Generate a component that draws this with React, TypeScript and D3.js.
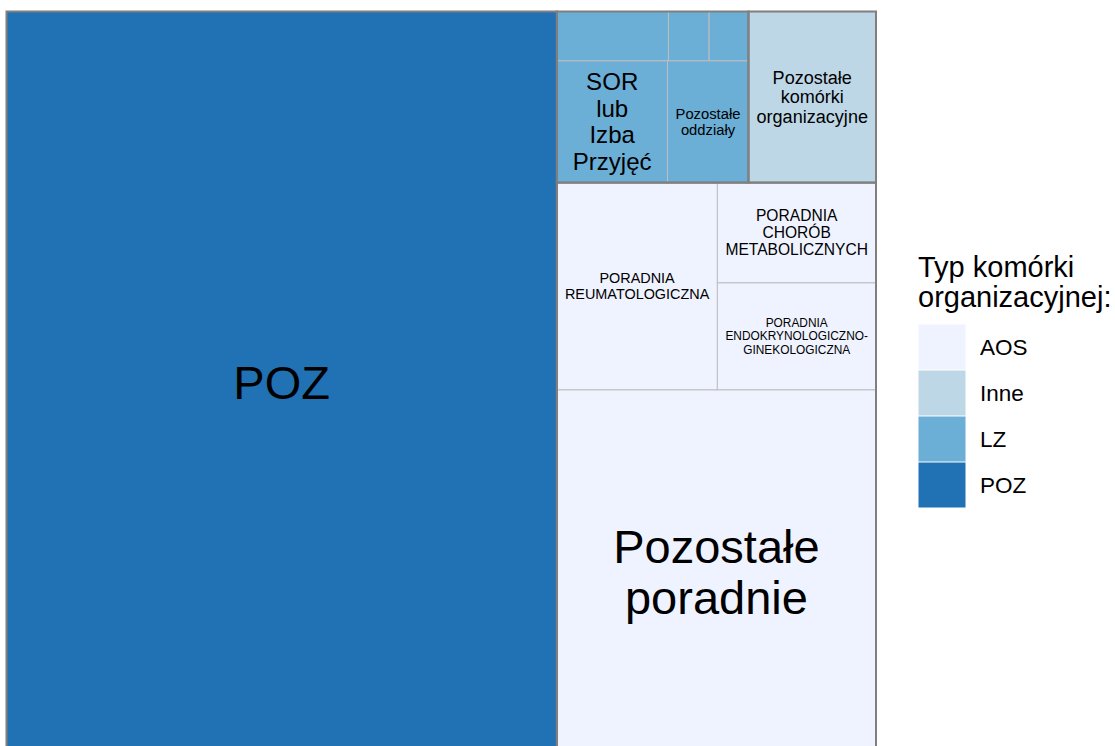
import React from "react";
import * as d3 from "d3";

// ---------- data ----------
const groupNames = ["AOS", "Inne", "LZ", "POZ"];
const legendTitle = ["Typ komórki", "organizacyjnej:"];

const cellNames = [
  "POZ",
  "Pozostałe poradnie",
  "PORADNIA REUMATOLOGICZNA",
  "PORADNIA ENDOKRYNOLOGICZNO-GINEKOLOGICZNA",
  "PORADNIA CHORÓB METABOLICZNYCH",
  "Pozostałe komórki organizacyjne",
  "SOR lub Izba Przyjęć",
  "Pozostałe oddziały",
  "Oddział 1",
  "Oddział 2",
  "Oddział 3",
];
const cellGroups = ["POZ", "AOS", "AOS", "AOS", "AOS", "Inne", "LZ", "LZ", "LZ", "LZ", "LZ"];
const cellValues = [6331, 1801, 515, 263, 246, 338, 209, 153, 85, 31, 30];
const cellLabels = [
  "POZ",
  "Pozostałe\nporadnie",
  "PORADNIA\nREUMATOLOGICZNA",
  "PORADNIA\nENDOKRYNOLOGICZNO-\nGINEKOLOGICZNA",
  "PORADNIA\nCHORÓB\nMETABOLICZNYCH",
  "Pozostałe\nkomórki\norganizacyjne",
  "SOR\nlub\nIzba\nPrzyjęć",
  "Pozostałe\noddziały",
  "",
  "",
  "",
];

// ---------- layout constants ----------
const WIDTH = 1115;
const HEIGHT = 746;
const PANEL = { left: 6.5, right: 876, top: 11.5, bottom: 754 };
const FONT = "'Liberation Sans', Arial, Helvetica, sans-serif";
const colors = d3.scaleOrdinal<string, string>().domain(groupNames).range(["#eff3ff", "#bdd7e7", "#6baed6", "#2171b5"]);

let ctx: CanvasRenderingContext2D | null = null;
function textWidth(s: string, size: number) {
  if (!ctx) {
    const c = document.createElement("canvas");
    ctx = c.getContext("2d");
  }
  if (!ctx) return s.length * size * 0.55;
  ctx.font = `${size}px ${FONT}`;
  return ctx.measureText(s).width;
}

export default function App() {
  const data = {
    name: "root",
    children: groupNames.map((g) => ({
      name: g,
      children: cellNames
        .map((n, i) => ({ name: n, group: cellGroups[i], value: cellValues[i], label: cellLabels[i] }))
        .filter((c) => c.group === g),
    })),
  };

  const root = d3
    .hierarchy<any>(data)
    .sum((d: any) => d.value || 0)
    .sort((a, b) => (b.value || 0) - (a.value || 0));

  d3.treemap<any>().tile(d3.treemapSquarify.ratio(1)).size([1, 1])(root);

  const x = d3.scaleLinear().domain([0, 1]).range([PANEL.left, PANEL.right]);
  const y = d3.scaleLinear().domain([0, 1]).range([PANEL.bottom, PANEL.top]);

  const leaves = root.leaves() as any[];
  const groups = (root.children || []) as any[];

  const pad = 8;
  const maxFs = 47;
  const lh = 1.1;

  const labelEls = leaves.map((l, i) => {
    const label: string = l.data.label;
    if (!label) return null;
    const x0 = x(l.x0), x1 = x(l.x1), yt = y(l.y1), yb = y(l.y0);
    const w = x1 - x0, h = yb - yt;
    const lines = label.split("\n");
    const maxW = d3.max(lines, (s) => textWidth(s, 100) / 100) || 1;
    const fs = Math.min(maxFs, (w - 2 * pad) / maxW, (h - 2 * pad) / (lines.length * lh));
    const cx = (x0 + x1) / 2, cy = (yt + yb) / 2;
    const step = fs * lh;
    return (
      <text key={"t" + i} x={cx} textAnchor="middle" fontSize={fs} fontFamily={FONT} fill="#000">
        {lines.map((s, k) => (
          <tspan key={k} x={cx} y={cy + (k - (lines.length - 1) / 2) * step + 0.355 * fs}>
            {s}
          </tspan>
        ))}
      </text>
    );
  });

  const keyX = 918.5, keyY0 = 324.5, keyStep = 46, keySize = 47;

  return (
    <svg width={WIDTH} height={HEIGHT} style={{ position: "absolute", left: 0, top: 0, background: "#fff" }}>
      <rect width={WIDTH} height={HEIGHT} fill="#fff" />
      <g>
        {leaves.map((l, i) => (
          <rect
            key={"r" + i}
            x={x(l.x0)}
            y={y(l.y1)}
            width={x(l.x1) - x(l.x0)}
            height={y(l.y0) - y(l.y1)}
            fill={colors(l.data.group)}
            stroke="#bebebe"
            strokeWidth={1}
          />
        ))}
      </g>
      <g>
        {groups.map((g, i) => (
          <rect
            key={"g" + i}
            x={x(g.x0)}
            y={y(g.y1)}
            width={x(g.x1) - x(g.x0)}
            height={y(g.y0) - y(g.y1)}
            fill="none"
            stroke="#7f7f7f"
            strokeWidth={2}
          />
        ))}
      </g>
      <g>{labelEls}</g>
      <g fontFamily={FONT}>
        {legendTitle.map((t, i) => (
          <text key={"lt" + i} x={918} y={276.5 + i * 30} fontSize={29} fill="#000">
            {t}
          </text>
        ))}
        {groupNames.map((g, i) => (
          <g key={"k" + g}>
            <rect x={keyX} y={keyY0 + i * keyStep} width={keySize} height={keyStep - 1} fill={colors(g)} />
            <text x={980} y={keyY0 + i * keyStep + (keyStep - 1) / 2 + 0.355 * 22.5} fontSize={22.5} fill="#000">
              {g}
            </text>
          </g>
        ))}
      </g>
    </svg>
  );
}
